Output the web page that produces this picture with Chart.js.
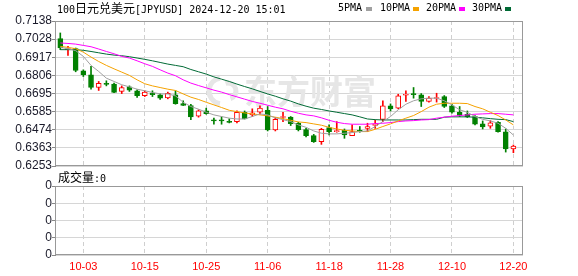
<!DOCTYPE html>
<html><head><meta charset="utf-8">
<script src="https://cdn.jsdelivr.net/npm/chart.js@4.4.1/dist/chart.umd.min.js"></script>
<style>
html,body{margin:0;padding:0;background:#fff;width:578px;height:276px;overflow:hidden;position:relative}
canvas{position:absolute;left:0}
#c1{top:0}
#c2{top:172px}
.t{position:absolute;white-space:nowrap;font-family:"DejaVu Sans Mono","Noto Sans CJK SC";font-size:10px;color:#000;line-height:14px}
.cj{font-family:"Noto Sans CJK SC";font-size:12px}
.sq{position:absolute;width:6px;height:4px}
</style></head>
<body>
<canvas id="c1" width="578" height="180"></canvas>
<canvas id="c2" width="578" height="104"></canvas>
<div class="t" style="left:57px;top:1px">100<span class="cj">日元兑美元</span>[JPYUSD] 2024-12-20 15:01</div>
<div class="t" style="left:338px;top:1px">5PMA</div><div class="sq" style="left:366px;top:7px;background:#a0a0a0"></div>
<div class="t" style="left:380px;top:1px">10PMA</div><div class="sq" style="left:413px;top:7px;background:#f5a200"></div>
<div class="t" style="left:426px;top:1px">20PMA</div><div class="sq" style="left:459px;top:7px;background:#ff00ff"></div>
<div class="t" style="left:472px;top:1px">30PMA</div><div class="sq" style="left:505px;top:7px;background:#006a35"></div>
<div class="t" style="left:58px;top:170px"><span class="cj">成交量</span>:0</div>
<script>
const dates = ['09-30','10-01','10-02','10-03','10-04','10-07','10-08','10-09','10-10','10-11','10-14','10-15','10-16','10-17','10-18','10-21','10-22','10-23','10-24','10-25','10-28','10-29','10-30','10-31','11-01','11-04','11-05','11-06','11-07','11-08','11-11','11-12','11-13','11-14','11-15','11-18','11-19','11-20','11-21','11-22','11-25','11-26','11-27','11-28','11-29','12-02','12-03','12-04','12-05','12-06','12-09','12-10','12-11','12-12','12-13','12-16','12-17','12-18','12-19','12-20'];
const openP  = [0.7030,0.6963,0.6969,0.6834,0.6810,0.6732,0.6757,0.6753,0.6708,0.6736,0.6712,0.6683,0.6698,0.6687,0.6669,0.6687,0.6634,0.6622,0.6557,0.6589,0.6530,0.6530,0.6521,0.6524,0.6581,0.6565,0.6581,0.6593,0.6473,0.6549,0.6551,0.6514,0.6475,0.6438,0.6401,0.6487,0.6463,0.6471,0.6438,0.6469,0.6483,0.6500,0.6538,0.6620,0.6606,0.6685,0.6693,0.6687,0.6647,0.6665,0.6677,0.6620,0.6581,0.6569,0.6555,0.6510,0.6496,0.6520,0.6461,0.6357];
const highP  = [0.7065,0.6983,0.6973,0.6840,0.6861,0.6769,0.6773,0.6759,0.6742,0.6742,0.6718,0.6712,0.6712,0.6693,0.6704,0.6712,0.6651,0.6630,0.6596,0.6606,0.6545,0.6553,0.6541,0.6589,0.6589,0.6602,0.6620,0.6616,0.6549,0.6581,0.6555,0.6520,0.6483,0.6446,0.6483,0.6504,0.6524,0.6479,0.6504,0.6494,0.6514,0.6534,0.6651,0.6632,0.6691,0.6712,0.6732,0.6695,0.6677,0.6697,0.6683,0.6630,0.6616,0.6589,0.6561,0.6528,0.6530,0.6524,0.6479,0.6381];
const lowP   = [0.6963,0.6928,0.6828,0.6799,0.6722,0.6714,0.6742,0.6700,0.6695,0.6708,0.6671,0.6677,0.6677,0.6659,0.6663,0.6630,0.6622,0.6536,0.6551,0.6569,0.6508,0.6508,0.6516,0.6516,0.6540,0.6555,0.6569,0.6467,0.6467,0.6524,0.6500,0.6467,0.6430,0.6397,0.6385,0.6442,0.6459,0.6422,0.6438,0.6459,0.6463,0.6483,0.6524,0.6589,0.6602,0.6647,0.6667,0.6616,0.6643,0.6643,0.6610,0.6575,0.6555,0.6549,0.6504,0.6479,0.6483,0.6459,0.6338,0.6334];
const closeP = [0.6973,0.6969,0.6836,0.6810,0.6732,0.6757,0.6751,0.6702,0.6732,0.6716,0.6683,0.6704,0.6689,0.6667,0.6696,0.6634,0.6622,0.6553,0.6589,0.6573,0.6528,0.6528,0.6519,0.6581,0.6540,0.6577,0.6606,0.6473,0.6538,0.6555,0.6512,0.6475,0.6438,0.6401,0.6477,0.6463,0.6467,0.6442,0.6463,0.6465,0.6494,0.6508,0.6620,0.6602,0.6681,0.6691,0.6689,0.6647,0.6667,0.6669,0.6616,0.6581,0.6561,0.6553,0.6508,0.6491,0.6516,0.6463,0.6357,0.6375];
const ma5  = [0.6977,0.6969,0.6957,0.6922,0.6867,0.6830,0.6789,0.6769,0.6749,0.6736,0.6722,0.6712,0.6702,0.6693,0.6693,0.6681,0.6642,0.6616,0.6600,0.6581,0.6565,0.6555,0.6545,0.6540,0.6540,0.6555,0.6571,0.6565,0.6547,0.6536,0.6524,0.6504,0.6489,0.6467,0.6453,0.6449,0.6449,0.6453,0.6457,0.6463,0.6467,0.6494,0.6524,0.6555,0.6596,0.6630,0.6651,0.6663,0.6667,0.6667,0.6651,0.6626,0.6596,0.6581,0.6555,0.6538,0.6528,0.6514,0.6483,0.6442];
const ma10 = [0.6983,0.6977,0.6969,0.6948,0.6918,0.6891,0.6867,0.6846,0.6826,0.6806,0.6779,0.6755,0.6742,0.6732,0.6722,0.6714,0.6693,0.6673,0.6659,0.6642,0.6626,0.6610,0.6593,0.6585,0.6577,0.6571,0.6565,0.6559,0.6551,0.6542,0.6532,0.6522,0.6518,0.6510,0.6502,0.6489,0.6479,0.6471,0.6467,0.6463,0.6463,0.6477,0.6494,0.6510,0.6528,0.6545,0.6561,0.6585,0.6612,0.6630,0.6636,0.6636,0.6636,0.6634,0.6616,0.6602,0.6581,0.6561,0.6534,0.6504];
const ma20 = [0.7004,0.7001,0.6997,0.6989,0.6981,0.6967,0.6952,0.6938,0.6922,0.6912,0.6895,0.6877,0.6861,0.6840,0.6820,0.6804,0.6779,0.6759,0.6744,0.6730,0.6716,0.6704,0.6689,0.6675,0.6661,0.6647,0.6636,0.6624,0.6612,0.6602,0.6587,0.6575,0.6565,0.6559,0.6547,0.6532,0.6520,0.6512,0.6508,0.6508,0.6508,0.6512,0.6514,0.6518,0.6524,0.6528,0.6530,0.6534,0.6536,0.6545,0.6551,0.6557,0.6561,0.6565,0.6569,0.6571,0.6573,0.6573,0.6569,0.6565];
const ma30 = [0.6963,0.6963,0.6963,0.6959,0.6952,0.6944,0.6936,0.6930,0.6926,0.6920,0.6912,0.6904,0.6895,0.6885,0.6875,0.6867,0.6859,0.6842,0.6828,0.6814,0.6797,0.6783,0.6769,0.6753,0.6738,0.6724,0.6708,0.6693,0.6679,0.6663,0.6649,0.6632,0.6618,0.6606,0.6598,0.6589,0.6581,0.6573,0.6565,0.6553,0.6540,0.6536,0.6534,0.6534,0.6534,0.6534,0.6536,0.6538,0.6538,0.6538,0.6551,0.6553,0.6553,0.6553,0.6551,0.6547,0.6542,0.6538,0.6536,0.6524];
const volume = [0,0,0,0,0,0,0,0,0,0,0,0,0,0,0,0,0,0,0,0,0,0,0,0,0,0,0,0,0,0,0,0,0,0,0,0,0,0,0,0,0,0,0,0,0,0,0,0,0,0,0,0,0,0,0,0,0,0,0,0];
const yTicks = [0.6253,0.6363,0.6474,0.6585,0.6695,0.6806,0.6917,0.7028,0.7138];
const xTickDates = ['10-03','10-15','10-25','11-06','11-18','11-28','12-10','12-20'];
const volTicks = [0,1,2,3,4];
const volTickLabels = ['0','0','0','0','0'];

const UP='#ff0000', DOWN='#008000';
const isUp = i => closeP[i] >= openP[i];
const xIdxTicks = xTickDates.map(d => dates.indexOf(d));
const XMIN=-0.69, XMAX=60.25;

const framePlugin = {
  id:'frame',
  afterDraw(chart){
    const a=chart.chartArea, c=chart.ctx;
    c.save(); c.strokeStyle='#999'; c.lineWidth=1;
    c.strokeRect(Math.round(a.left)+0.5, Math.round(a.top)+0.5, Math.round(a.right-a.left)-1, Math.round(a.bottom-a.top)-1);
    c.restore();
  }
};
const wmPlugin = {
  id:'wm',
  beforeDatasetsDraw(chart){
    const c=chart.ctx; c.save();
    c.fillStyle='#e6e6e6'; c.strokeStyle='#e6e6e6';
    c.font='bold 33px "Noto Sans CJK SC"'; c.textBaseline='middle';
    c.fillText('东方财富', 244, 91);
    c.lineWidth=5;
    c.beginPath(); c.arc(222,91,13,Math.PI*0.55,Math.PI*1.45); c.stroke();
    c.beginPath(); c.arc(228,91,8,Math.PI*1.4,Math.PI*2.4); c.stroke();
    c.restore();
  }
};

const xScaleBase = {
  type:'linear', min:XMIN, max:XMAX, offset:false,
  afterBuildTicks(s){ s.ticks = xIdxTicks.map(v=>({value:v})); },
  grid:{color:'#cfcfcf', offset:false, drawTicks:false, lineWidth:1},
  border:{display:false, dash:[4,3]}
};
const yGrid = {color:'#d6d6d6', tickColor:'#888', tickLength:3, drawTicks:true};

new Chart(document.getElementById('c1'), {
  type:'bar',
  data:{datasets:[
    {type:'line', label:'5PMA', data:ma5.map((v,i)=>({x:i,y:v})), borderColor:'#a0a0a0', borderWidth:1, pointRadius:0, tension:0, order:0},
    {type:'line', label:'10PMA', data:ma10.map((v,i)=>({x:i,y:v})), borderColor:'#f5a200', borderWidth:1, pointRadius:0, tension:0, order:0},
    {type:'line', label:'20PMA', data:ma20.map((v,i)=>({x:i,y:v})), borderColor:'#ff00ff', borderWidth:1, pointRadius:0, tension:0, order:0},
    {type:'line', label:'30PMA', data:ma30.map((v,i)=>({x:i,y:v})), borderColor:'#006a35', borderWidth:1, pointRadius:0, tension:0, order:0},
    {type:'bar', label:'body', data:openP.map((o,i)=>({x:i,y:[o,closeP[i]]})), grouped:false, barThickness:5, minBarLength:1,
      backgroundColor:openP.map((o,i)=>isUp(i)?'#ffffff':DOWN), borderColor:openP.map((o,i)=>isUp(i)?UP:DOWN),
      borderWidth:1, borderSkipped:false, order:1},
    {type:'bar', label:'wick', data:lowP.map((l,i)=>({x:i,y:[l,highP[i]]})), grouped:false, barThickness:1,
      backgroundColor:openP.map((o,i)=>isUp(i)?UP:DOWN), borderWidth:0, order:2}
  ]},
  options:{
    responsive:false, animation:false, events:[],
    layout:{padding:{top:21,bottom:14,left:0,right:55}},
    plugins:{legend:{display:false}, tooltip:{enabled:false}},
    scales:{
      x:Object.assign({}, xScaleBase, {ticks:{display:false}, afterFit(s){s.height=0;}}),
      y:{type:'linear', position:'left', min:yTicks[0], max:yTicks[yTicks.length-1],
        afterBuildTicks(s){ s.ticks = yTicks.map(v=>({value:v})); },
        afterFit(s){ s.width=55; },
        ticks:{autoSkip:false, padding:0, color:'#1a1a2a', font:{family:'"Liberation Sans"', size:12}, callback:(v)=>v.toFixed(4)},
        grid:yGrid, border:{display:true, color:'#888'}}
    }
  },
  plugins:[wmPlugin, framePlugin]
});

new Chart(document.getElementById('c2'), {
  type:'bar',
  data:{datasets:[{label:'成交量', data:volume.map((v,i)=>({x:i,y:v})), backgroundColor:DOWN, barThickness:5}]},
  options:{
    responsive:false, animation:false, events:[],
    layout:{padding:{top:14,bottom:0,left:0,right:55}},
    plugins:{legend:{display:false}, tooltip:{enabled:false}},
    scales:{
      x:Object.assign({}, xScaleBase, {
        ticks:{autoSkip:false, maxRotation:0, padding:5, color:'#ff0000', font:{family:'"Liberation Sans"', size:11}, callback:(v)=>dates[v]},
        afterFit(s){ s.height=21; }}),
      y:{type:'linear', position:'left', min:volTicks[0], max:volTicks[volTicks.length-1],
        afterBuildTicks(s){ s.ticks = volTicks.map(v=>({value:v})); },
        afterFit(s){ s.width=55; },
        ticks:{autoSkip:false, padding:0, color:'#1a1a2a', font:{family:'"Liberation Sans"', size:12}, callback:(v,i)=>volTickLabels[i]},
        grid:yGrid, border:{display:true, color:'#888'}}
    }
  },
  plugins:[framePlugin]
});
</script>
</body></html>
